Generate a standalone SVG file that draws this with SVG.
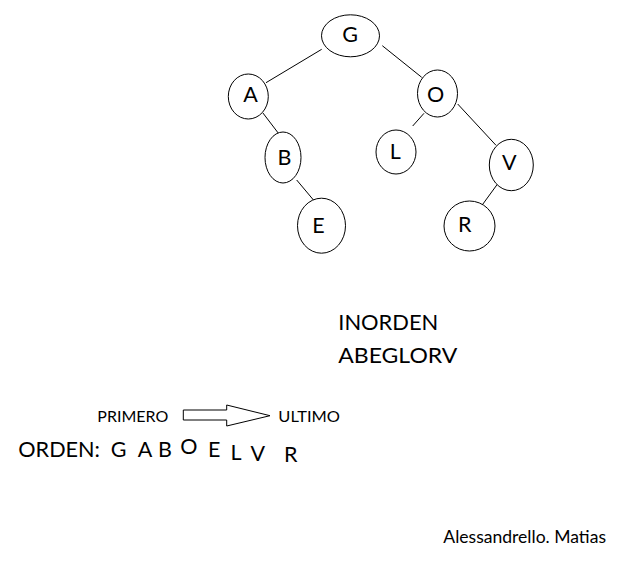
<svg xmlns="http://www.w3.org/2000/svg" width="619" height="572" viewBox="0 0 619 572">
<style>
.n{fill:#fff;stroke:#000;stroke-width:1}
.e{stroke:#000;stroke-width:1;fill:none}
text{font-family:Lato,"Liberation Sans",sans-serif;fill:#000}
.l{font-size:21.5px;text-anchor:middle}
.big{font-size:21.5px}
.sm{font-size:15.5px}
.au{font-size:17px}
</style>
<rect width="619" height="572" fill="#fff"/>
<g id="connectors">
<line class="e" x1="321.7" y1="49.3" x2="266" y2="82.7"/>
<line class="e" x1="382.3" y1="45.7" x2="421.7" y2="77.3"/>
<line class="e" x1="262.7" y1="112.7" x2="281" y2="136.7"/>
<line class="e" x1="296.7" y1="180" x2="314.3" y2="201"/>
<line class="e" x1="424" y1="113.3" x2="412.7" y2="126"/>
<line class="e" x1="457.7" y1="104" x2="496" y2="145.3"/>
<line class="e" x1="497.3" y1="184.3" x2="481.7" y2="205.7"/>
</g>
<g id="node-G"><ellipse class="n" cx="350.5" cy="35.8" rx="29" ry="21"/><text class="l" x="350" y="42.3">G</text></g>
<g id="node-A"><ellipse class="n" cx="248.3" cy="96.5" rx="20" ry="22.5"/><text class="l" x="250.5" y="101.7">A</text></g>
<g id="node-B"><ellipse class="n" cx="283" cy="157.5" rx="18" ry="25.5"/><text class="l" x="284.5" y="165">B</text></g>
<g id="node-E"><ellipse class="n" cx="321.5" cy="225.7" rx="24" ry="27.5"/><text class="l" x="318.5" y="233.3">E</text></g>
<g id="node-O"><ellipse class="n" cx="437.5" cy="93.5" rx="20" ry="23.5"/><text class="l" x="435.5" y="101.7">O</text></g>
<g id="node-L"><ellipse class="n" cx="396" cy="152" rx="20" ry="22"/><text class="l" x="395.3" y="159.3">L</text></g>
<g id="node-V"><ellipse class="n" cx="511.3" cy="165" rx="22" ry="25.7"/><text class="l" x="509.3" y="170">V</text></g>
<g id="node-R"><ellipse class="n" cx="469.5" cy="226" rx="25.5" ry="25"/><text class="l" x="464.8" y="231.7">R</text></g>
<g id="inorden">
<text class="big" x="338.3" y="330" textLength="100" lengthAdjust="spacingAndGlyphs">INORDEN</text>
<text class="big" x="338.3" y="363.3" textLength="119" lengthAdjust="spacingAndGlyphs">ABEGLORV</text>
</g>
<g id="orden-legend">
<text class="sm" x="97.3" y="421.7" textLength="71" lengthAdjust="spacingAndGlyphs">PRIMERO</text>
<polygon points="183.3,410 226.7,410 226.7,405 270,415.7 226.7,426 226.7,420 183.3,420" fill="#fff" stroke="#000" stroke-width="1"/>
<text class="sm" x="278.3" y="421.7" textLength="61.7" lengthAdjust="spacingAndGlyphs">ULTIMO</text>
</g>
<g id="orden">
<text class="big" x="18.3" y="456.7" textLength="81.7" lengthAdjust="spacingAndGlyphs">ORDEN:</text>
<text class="big" x="110.7" y="456.5">G</text>
<text class="big" x="137.7" y="456.5">A</text>
<text class="big" x="158" y="456.5">B</text>
<text class="big" x="180.2" y="454.3">O</text>
<text class="big" x="208" y="457.2">E</text>
<text class="big" x="230.5" y="459.5">L</text>
<text class="big" x="250.5" y="460.8">V</text>
<text class="big" x="284" y="461.8">R</text>
</g>
<text class="au" x="443.3" y="542.7" textLength="162.7" lengthAdjust="spacingAndGlyphs">Alessandrello. Matias</text>
</svg>
